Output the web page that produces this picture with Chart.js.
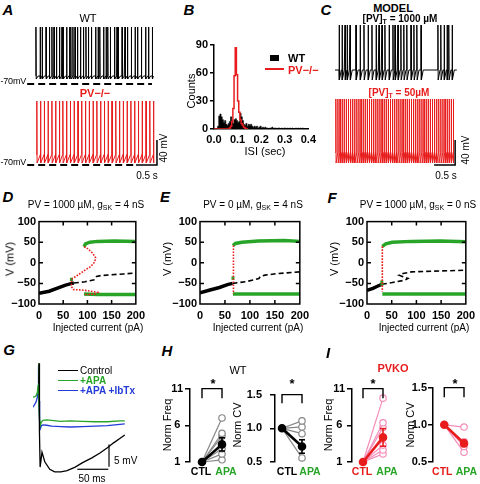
<!DOCTYPE html>
<html>
<head>
<meta charset="utf-8">
<script src="https://cdn.jsdelivr.net/npm/chart.js@4.4.0/dist/chart.umd.min.js"></script>
<style>
  body { margin: 0; background: #fff; }
  #fig { position: relative; width: 480px; height: 484px; overflow: hidden;
         font-family: "Liberation Sans", Arial, Helvetica, sans-serif; color: #000; }
  #fig canvas { position: absolute; }
  .t { position: absolute; white-space: nowrap; line-height: 1; font-size: 10px; z-index: 2; }
  .t sub { font-size: 7px; vertical-align: -2px; line-height: 0; }
  .pl { font-weight: bold; font-style: italic; font-size: 15px; }
  .sw { position: absolute; z-index: 2; }
</style>
</head>
<body>
<div id="fig"></div>
<script>
// ---- A: spike times (s) ----
const wtSpikes = [0.00,0.10,0.15,0.24,0.32,0.38,0.43,0.49,0.56,0.62,0.65,0.73,0.80,0.83,0.88,0.93,0.99,1.06,1.13,1.19,1.25,1.32,1.42,1.48,1.52,1.61,1.67,1.71,1.77,1.87,1.93,1.96,2.05,2.12,2.18,2.27,2.36,2.42,2.51,2.61,2.68,2.77];
const koSpikes = [0.02,0.11,0.20,0.29,0.38,0.47,0.56,0.64,0.73,0.82,0.91,1.00,1.09,1.18,1.27,1.36,1.45,1.54,1.63,1.72,1.81,1.90,1.99,2.08,2.17,2.26,2.35,2.44,2.53,2.62,2.71,2.80];
// ---- C: model spike times (s) ----
const pv1000Spikes = [0.10,0.17,0.24,0.29,0.36,0.50,0.60,0.69,0.79,0.88,0.98,1.05,1.12,1.19,1.29,1.38,1.43,1.50,1.57,1.64,1.71,1.81,1.88,1.95,2.05,2.45,2.52,2.60,2.67,2.71,2.79];
const pv50Spikes = [0.02,0.07,0.12,0.17,0.22,0.27,0.32,0.37,0.42,0.47,0.52,0.57,0.62,0.67,0.72,0.77,0.82,0.87,0.92,0.97,1.02,1.07,1.12,1.17,1.22,1.27,1.32,1.37,1.42,1.47,1.52,1.57,1.62,1.67,1.72,1.77,1.82,1.87,1.92,1.97,2.02,2.07,2.12,2.17,2.22,2.27,2.32,2.37,2.42,2.47,2.52,2.57,2.62,2.67,2.72,2.77,2.82];

// ---- B: ISI histogram, bins of 0.005 s starting at 0 ----
const isiBinWidth = 0.005;
const wtCounts = [0,0,0,0,3,14,16,13,10,7,9,5,4,6,8,13,9,6,10,11,9,7,8,17,13,9,5,4,6,3,5,4,5,3,2,3,2,3,1,2,3,1,2,1,2,1,1,0,1,1,2,0,1,1,0,1,1,0,1,0,1,1,0,1,0,1,0,1,0,0,1,0,1,0,1,0,1,0,0,0];
const koCounts = [0,0,0,0,0,0,0,0,0,0,0,0,0,0,1,3,8,22,57,87,58,30,18,10,6,4,2,1,0];

// ---- D/E/F: bifurcation diagrams (pA, mV) ----
const dRestI = [0,21,41,55,68,72],            dRestV = [-74,-69,-60,-54,-50,-49];
const dUnstI = [72,95,115,119,128,148,175,200], dUnstV = [-49,-46,-41,-33,-31,-29,-27,-25];
const dMaxI = [93,96,105,121,155,200],         dMaxV = [39,46,50,52,53,52];
const dMinI = [93,121,200],                    dMinV = [-76,-77,-77];
const dUcI = [93,101,111,117,115,107,96,85,75,69,67,67,71,88,108,121,115,101,93];
const dUcV = [39,34,23,12,2,-9,-17,-26,-34,-38,-46,-58,-65,-66,-69,-72,-76,-77,-77];
const dHopfI = [67,67], dHopfV = [-36,-44];

const eRestI = [0,20,39,55,65],                eRestV = [-73,-66,-60,-53,-50];
const eUnstI = [65,91,110,118,121,130,156,200], eUnstV = [-50,-46,-41,-38,-33,-30,-26,-22];
const eMaxI = [66,71,84,117,169,200],          eMaxV = [42,47,50,53,54,52];
const eMinI = [66,200],                        eMinV = [-76,-76];
const eUcI = [67,67],                          eUcV = [42,-76];
const eHopfI = [66,66], eHopfV = [-33,-41];

const fRestI = [0,12,21,30],                   fRestV = [-67,-62,-57,-52];
const fUnstI = [30,51,77,83,73,65,73,90,116,200], fUnstV = [-52,-48,-42,-38,-34,-30,-26,-22,-21,-18];
const fMaxI = [31,38,51,90,148,200],           fMaxV = [40,46,50,52,53,51];
const fMinI = [31,200],                        fMinV = [-76,-76];
const fUcI = [31,31],                          fUcV = [40,-70];
const fHopfI = [30,30], fHopfV = [-43,-56];

// ---- G: averaged AHP traces (ms, mV relative) ----
const gCtlT = [9.2,9.8,10.4,11.5,14.5,19,27,35,45,55,68,80,95,108,120,130,140,148];
const gCtlV = [9,13.6,-2,-10,-6.6,-8.8,-10.5,-11.1,-11.1,-10.8,-10.0,-9.0,-7.9,-6.8,-5.6,-4.5,-3.5,-2.7];
const gApaT = [0,3,5,7,8.2,8.8,9.6,10.6,12,13.5,16,22,30,45,60,80,100,120,140,148];
const gApaV = [5.9,6.0,6.2,7.0,8.6,13.6,6,1,-0.5,0.2,0.6,0.7,0.6,0.4,0.5,0.4,0.3,0.3,0.5,0.5];
const gIbtT = [0,3,5,7,8.2,8.9,9.7,10.7,12,13.5,16,22,30,45,60,80,100,120,140,148];
const gIbtV = [3.6,4.3,4.8,5.9,7.5,13.0,5,0,-1.2,-0.6,-0.4,-0.5,-0.7,-0.8,-0.9,-0.8,-0.7,-0.6,-0.3,-0.2];

// ---- H/I: normalised frequency and CV, CTL vs APA ----
const groups = ['CTL', 'APA'];
const hFreqApa = [7.0,4.9,4.5,2.8,2.1,1.3], hFreqMean = [1,3.4], hFreqErr = 0.9;
const hCvApa = [1.11,1.02,0.92,0.56],        hCvMean = [1,0.73],  hCvErr = 0.1;
const iFreqApa = [9.7,6.35,5.7,3.3,2.65,2.1], iFreqMean = [1,4.35], iFreqErr = 1.2;
const iCvApa = [0.97,0.77,0.71,0.63],        iCvMean = [1,0.75],  iCvErr = 0.04;

const GREEN = 'rgb(40,165,40)';
const RED = 'rgb(232,28,28)';
const BLUE = 'rgb(35,60,215)';
const GREY = 'rgb(135,135,135)';
const PINK = 'rgb(244,140,185)';
const FONT = '"Liberation Sans", Arial, Helvetica, sans-serif';
const TICKF = { family: FONT, size: 11, weight: 'bold' };

Chart.defaults.font.family = FONT;
Chart.defaults.color = '#000';
Chart.defaults.animation = false;
Chart.defaults.responsive = false;
Chart.defaults.events = [];
Chart.defaults.plugins.legend.display = false;
Chart.defaults.plugins.tooltip.enabled = false;
Chart.defaults.elements.point.radius = 0;

const fig = document.getElementById('fig');
const xy = (xs, ys) => xs.map((x, i) => ({ x, y: ys[i] }));

function canvasAt(l, t, w, h) {
  const c = document.createElement('canvas');
  c.width = w; c.height = h;
  c.style.left = l + 'px'; c.style.top = t + 'px';
  c.style.width = w + 'px'; c.style.height = h + 'px';
  fig.appendChild(c);
  return c;
}

function label(html, x, y, css = '', mode = 'c') {
  const d = document.createElement('div');
  d.className = 't';
  d.innerHTML = html;
  d.style.cssText += `left:${x}px;top:${y}px;` + css;
  d.style.transform = {
    c: 'translate(-50%,-50%)', l: 'translate(0,-50%)', r: 'translate(-100%,-50%)',
    v: 'translate(-50%,-50%) rotate(-90deg)'
  }[mode];
  fig.appendChild(d);
  return d;
}

function swatch(l, t, w, h, color) {
  const d = document.createElement('div');
  d.className = 'sw';
  d.style.cssText = `left:${l}px;top:${t}px;width:${w}px;height:${h}px;background:${color};`;
  fig.appendChild(d);
}

// spikes on a flat baseline with a short AHP
function flatTrain(times, base, peak, ahp, t0, t1) {
  const p = [{ x: t0, y: base }];
  times.forEach((t, i) => {
    const next = i + 1 < times.length ? times[i + 1] : t1;
    p.push({ x: t - 0.003, y: base }, { x: t, y: peak }, { x: t + 0.006, y: ahp });
    p.push({ x: Math.min(t + 0.05, next - 0.005), y: base });
  });
  p.push({ x: t1, y: base });
  return p;
}

// regular firing: trough then ramp up to threshold
function rampTrain(times, peak, trough, thresh, t0) {
  const p = [{ x: t0, y: thresh }];
  times.forEach((t, i) => {
    p.push({ x: t - 0.002, y: thresh }, { x: t, y: peak }, { x: t + 0.006, y: trough });
    if (i + 1 < times.length) p.push({ x: times[i + 1] - 0.004, y: thresh });
  });
  return p;
}

function traceOpts(x0, x1, y0, y1) {
  return {
    layout: { padding: 0 },
    datasets: { line: { clip: false } },
    scales: {
      x: { type: 'linear', display: false, min: x0, max: x1 },
      y: { type: 'linear', display: false, min: y0, max: y1 }
    }
  };
}

// ---------- A ----------
new Chart(canvasAt(26, 22, 134, 66), {
  type: 'line',
  data: { datasets: [
    { data: xy([-0.21, 2.76], [-70, -70]), borderColor: '#000', borderWidth: 1.8, borderDash: [7, 4] },
    { data: flatTrain(wtSpikes, -57.2, 21.2, -62, 0, 2.8), borderColor: '#000', borderWidth: 1 }
  ] },
  options: traceOpts(-0.238, 2.952, -76.4, 29.2)
});
new Chart(canvasAt(26, 95, 140, 75), {
  type: 'line',
  data: { datasets: [
    { data: xy([-0.21, 2.36], [-70, -70]), borderColor: '#000', borderWidth: 1.8, borderDash: [7, 4] },
    { data: rampTrain(koSpikes, 32.4, -66.8, -53, 0), borderColor: RED, borderWidth: 1 },
    { data: xy([2.38, 2.88, 2.88], [-70, -70, -30]), borderColor: '#000', borderWidth: 1.5 }
  ] },
  options: traceOpts(-0.238, 3.095, -78, 42)
});

// ---------- B ----------
const binStarts = n => Array.from({ length: n + 1 }, (_, i) => +(i * isiBinWidth).toFixed(3));
new Chart(canvasAt(180, 35, 140, 124), {
  type: 'line',
  data: { datasets: [
    { data: xy(binStarts(koCounts.length), koCounts.concat([0])), stepped: 'after',
      borderColor: RED, borderWidth: 1.5, order: 0 },
    { data: xy(binStarts(wtCounts.length), wtCounts.concat([0])), stepped: 'after',
      borderColor: '#000', borderWidth: 0.6, backgroundColor: '#000', fill: 'origin', order: 1 }
  ] },
  options: {
    layout: { padding: { left: 0, top: 10, right: 10, bottom: 0 } },
    scales: {
      x: { type: 'linear', min: 0, max: 0.4,
           afterBuildTicks: a => { a.ticks = [0, 0.1, 0.2, 0.3, 0.4].map(v => ({ value: v })); },
           ticks: { font: TICKF, padding: 4, maxRotation: 0, callback: v => v.toFixed(1) },
           grid: { display: false, drawTicks: false },
           border: { display: true, color: '#000', width: 1.5 },
           afterFit: s => { s.height = 30; } },
      y: { min: 0, max: 90,
           afterBuildTicks: a => { a.ticks = [0, 30, 60, 90].map(v => ({ value: v })); },
           ticks: { font: TICKF, padding: 2 },
           grid: { display: true, drawOnChartArea: false, tickLength: 4, color: '#000', lineWidth: 1.5 },
           border: { display: true, color: '#000', width: 1.5 },
           afterFit: s => { s.width = 34; } }
    }
  }
});

// ---------- C ----------
new Chart(canvasAt(330, 20, 130, 68), {
  type: 'line',
  data: { datasets: [
    { data: flatTrain(pv1000Spikes, -60, 12, -76, 0, 2.9), borderColor: '#000', borderWidth: 1 }
  ] },
  options: traceOpts(-0.119, 2.976, -88.8, 20)
});
new Chart(canvasAt(330, 95, 140, 75), {
  type: 'line',
  data: { datasets: [
    { data: rampTrain(pv50Spikes, 27.4, -75, -58, 0), borderColor: RED, borderWidth: 1 },
    { data: xy([2.36, 2.86, 2.86], [-78, -78, -38]), borderColor: '#000', borderWidth: 1.5 }
  ] },
  options: traceOpts(-0.119, 3.214, -86.2, 33.8)
});

// ---------- D / E / F ----------
const frameTicks = {
  id: 'frameTicks',
  afterDatasetsDraw(chart, args, o) {
    const { ctx, chartArea: a, scales: { x, y } } = chart;
    ctx.save();
    ctx.strokeStyle = '#000';
    ctx.lineWidth = 1.5;
    ctx.strokeRect(a.left, a.top, a.right - a.left, a.bottom - a.top);
    ctx.beginPath();
    o.xt.forEach(v => {
      const px = x.getPixelForValue(v);
      ctx.moveTo(px, a.bottom); ctx.lineTo(px, a.bottom - o.len);
      ctx.moveTo(px, a.top); ctx.lineTo(px, a.top + o.len);
    });
    o.yt.forEach(v => {
      const py = y.getPixelForValue(v);
      ctx.moveTo(a.left, py); ctx.lineTo(a.left + o.len, py);
      ctx.moveTo(a.right, py); ctx.lineTo(a.right - o.len, py);
    });
    ctx.stroke();
    ctx.restore();
  }
};

function bifChart(left, width, padRight, restI, restV, unstI, unstV, maxI, maxV, minI, minV, ucI, ucV, hopfI, hopfV) {
  return new Chart(canvasAt(left, 212, width, 125), {
    type: 'line',
    data: { datasets: [
      { data: xy(restI, restV), borderColor: '#000', borderWidth: 3.5, order: 4 },
      { data: xy(unstI, unstV), borderColor: '#000', borderWidth: 1.6, borderDash: [5, 3], order: 4 },
      { data: xy(maxI, maxV), borderColor: GREEN, borderWidth: 3.5, order: 3 },
      { data: xy(minI, minV), borderColor: GREEN, borderWidth: 3.5, order: 3 },
      { data: xy(hopfI, hopfV), borderColor: GREEN, borderWidth: 3, order: 2 },
      { data: xy(ucI, ucV), borderColor: RED, borderWidth: 1.6, borderDash: [1.6, 1.4], order: 1 }
    ] },
    options: {
      layout: { padding: { left: 0, top: 9, right: padRight, bottom: 0 } },
      scales: {
        x: { type: 'linear', min: 0, max: 200,
             afterBuildTicks: a => { a.ticks = [0, 50, 100, 150, 200].map(v => ({ value: v })); },
             ticks: { font: TICKF, padding: 5, maxRotation: 0 },
             grid: { display: false, drawTicks: false }, border: { display: false },
             afterFit: s => { s.height = 33; } },
        y: { min: -100, max: 100,
             afterBuildTicks: a => { a.ticks = [-100, -50, 0, 50, 100].map(v => ({ value: v })); },
             ticks: { font: TICKF, padding: 3, callback: v => String(v).replace('-', '\u2212') },
             grid: { display: false, drawTicks: false }, border: { display: false },
             afterFit: s => { s.width = 39; } }
      },
      plugins: { frameTicks: { xt: [50, 100, 150], yt: [50, 0, -50], len: 4 } }
    },
    plugins: [frameTicks]
  });
}
bifChart(0, 150, 11, dRestI, dRestV, dUnstI, dUnstV, dMaxI, dMaxV, dMinI, dMinV, dUcI, dUcV, dHopfI, dHopfV);
bifChart(161, 153, 11, eRestI, eRestV, eUnstI, eUnstV, eMaxI, eMaxV, eMinI, eMinV, eUcI, eUcV, eHopfI, eHopfV);
bifChart(328, 152, 10, fRestI, fRestV, fUnstI, fUnstV, fMaxI, fMaxV, fMinI, fMinV, fUcI, fUcV, fHopfI, fHopfV);

// ---------- G ----------
new Chart(canvasAt(33, 363, 93, 112), {
  type: 'line',
  data: { datasets: [
    { data: xy(gCtlT, gCtlV), borderColor: '#000', borderWidth: 1.3, order: 0 },
    { data: xy(gApaT, gApaV), borderColor: GREEN, borderWidth: 1.3, order: 1 },
    { data: xy(gIbtT, gIbtV), borderColor: BLUE, borderWidth: 1.3, order: 2 },
    { data: xy([71.5, 121.5], [-10.5, -10.5]), borderColor: '#000', borderWidth: 1.2 },
    { data: xy([122.6, 122.6], [-9.9, -4.9]), borderColor: '#000', borderWidth: 1.2 }
  ] },
  options: traceOpts(0, 150, -11.8, 13.64)
});

// ---------- H / I ----------
function pairChart(left, width, yWidth, padRight, yMin, yMax, yTicks, dec, tickPad, xMin, xMax, labelAt,
                   apa, mean, err, lineCol, meanCol, ctlCol, brLow) {
  const ds = apa.map(v => ({
    data: [{ x: 0, y: mean[0] }, { x: 1, y: v }], borderColor: lineCol, borderWidth: 1.2,
    pointRadius: [0, 3.2], pointBackgroundColor: '#fff', pointBorderColor: lineCol, pointBorderWidth: 1.2, order: 5
  }));
  ds.push({ data: xy([0, 1], mean), borderColor: meanCol, borderWidth: 2.6,
            pointRadius: 3, pointBackgroundColor: meanCol, pointBorderColor: meanCol, order: 1 });
  const hi = mean[1] + err, lo = mean[1] - err;
  ds.push({ data: xy([1, 1], [lo, hi]), borderColor: meanCol, borderWidth: 1.6, order: 2 });
  ds.push({ data: xy([0.85, 1.15], [hi, hi]), borderColor: meanCol, borderWidth: 1.6, order: 2 });
  ds.push({ data: xy([0.85, 1.15], [lo, lo]), borderColor: meanCol, borderWidth: 1.6, order: 2 });
  ds.push({ data: xy([0, 0, 1, 1], [brLow, yMax, yMax, brLow]), borderColor: '#000', borderWidth: 1.4, order: 0 });
  return new Chart(canvasAt(left, 380, width, 100), {
    type: 'line',
    data: { datasets: ds },
    options: {
      layout: { padding: { left: 0, top: 7, right: padRight, bottom: 0 } },
      datasets: { line: { clip: false } },
      scales: {
        x: { type: 'linear', min: xMin, max: xMax,
             afterBuildTicks: a => { a.ticks = labelAt.map(v => ({ value: v })); },
             ticks: { font: { family: FONT, size: 10.5, weight: 'bold' }, padding: 4, maxRotation: 0,
                      autoSkip: false, callback: (v, i) => groups[i],
                      color: c => (c.index === 0 ? ctlCol : GREEN) },
             grid: { display: false, drawTicks: false }, border: { display: false },
             afterFit: s => { s.height = 18; } },
        y: { min: yMin, max: yMax,
             afterBuildTicks: a => { a.ticks = yTicks.map(v => ({ value: v })); },
             ticks: { font: TICKF, padding: tickPad, crossAlign: 'center', callback: v => v.toFixed(dec) },
             grid: { display: true, drawOnChartArea: false, tickLength: 5, color: '#000', lineWidth: 1.5 },
             border: { display: true, color: '#000', width: 1.5 },
             afterFit: s => { s.width = yWidth; } }
      }
    }
  });
}
pairChart(160, 90, 30, 18, 1, 11, [1, 6, 11], 0, 2, -0.6, 1.5, [-0.05, 1.2],
          hFreqApa, hFreqMean, hFreqErr, GREY, '#000', '#000', 9.7);
pairChart(231, 104, 44, 18, 0.5, 1.5, [0.5, 1.0, 1.5], 1, 8, -0.35, 1.75, [0.25, 1.4],
          hCvApa, hCvMean, hCvErr, GREY, '#000', '#000', 1.37);
pairChart(322, 90, 30, 18, 1, 11, [1, 6, 11], 0, 2, -0.55, 1.55, [-0.05, 1.2],
          iFreqApa, iFreqMean, iFreqErr, PINK, RED, RED, 9.7);
pairChart(398, 82, 35, 14, 0.5, 1.5, [0.5, 1.0, 1.5], 1, 1, -0.571, 1.0, [-0.1, 1.12],
          iCvApa, iCvMean, iCvErr, PINK, RED, RED, 1.37);

// ---------- text ----------
[['A', 8, 9], ['B', 189, 9], ['C', 326, 9], ['D', 8, 196], ['E', 165, 196], ['F', 332, 197],
 ['G', 9, 349], ['H', 167, 350], ['I', 328, 352]].forEach(([s, x, y]) => label(s, x, y, '', 'c').classList.add('pl'));

label('WT', 88, 18, 'font-size:11px;');
label('PV\u2212/\u2212', 95, 93, 'font-size:11px;font-weight:bold;color:' + RED + ';');
label('-70mV', 26, 81, 'font-size:9px;letter-spacing:-0.2px;', 'r');
label('-70mV', 26, 162, 'font-size:9px;letter-spacing:-0.2px;', 'r');
label('40 mV', 164, 148, '', 'v');
label('0.5 s', 147, 176);

label('Counts', 191, 91, 'font-size:11px;', 'v');
label('ISI (sec)', 265, 151, 'font-size:11px;');
swatch(270, 55, 9, 6, '#000');
label('WT', 288, 58, 'font-size:11px;font-weight:bold;', 'l');
swatch(265, 68, 19, 2, RED);
label('PV\u2212/\u2212', 288, 69.5, 'font-size:11px;font-weight:bold;color:' + RED + ';', 'l');

label('MODEL', 393, 8, 'font-size:11px;font-weight:bold;');
label('[PV]<sub>T</sub> = 1000 \u00b5M', 400, 19, 'font-weight:bold;');
label('[PV]<sub>T</sub> = 50\u00b5M', 399, 93, 'font-weight:bold;color:' + RED + ';');
label('40 mV', 466, 150, '', 'v');
label('0.5 s', 446, 176);

label('PV = 1000 \u00b5M, g<sub>SK</sub> = 4 nS', 86, 205);
label('PV = 0 \u00b5M, g<sub>SK</sub> = 4 nS', 253, 205);
label('PV = 1000 \u00b5M, g<sub>SK</sub> = 0 nS', 418, 205);
[[10, 98], [167, 258], [334, 424]].forEach(([vx, hx]) => {
  label('V (mV)', vx, 259, 'font-size:11px;', 'v');
  label('Injected current (pA)', hx, 328);
});

swatch(58, 369.5, 20, 1.5, '#000');
label('Control', 80, 371, '', 'l');
swatch(58, 379.5, 20, 1.5, GREEN);
label('+APA', 80, 381, 'font-weight:bold;color:' + GREEN + ';', 'l');
swatch(58, 389.5, 20, 1.5, BLUE);
label('+APA +IbTx', 80, 391, 'font-weight:bold;color:' + BLUE + ';', 'l');
label('5 mV', 114, 461, '', 'l');
label('50 ms', 92, 479);

label('WT', 238, 370, 'font-size:11px;');
label('PVKO', 393, 368, 'font-size:11px;font-weight:bold;color:' + RED + ';');
[[213, 383], [292, 383], [373, 383], [455, 383]].forEach(([x, y]) => label('*', x, y, 'font-size:13px;font-weight:bold;'));
label('Norm Freq', 167, 425, 'font-size:11px;', 'v');
label('Norm CV', 237, 425, 'font-size:11px;', 'v');
label('Norm Freq', 328, 425, 'font-size:11px;', 'v');
label('Norm CV', 410, 425, 'font-size:11px;', 'v');
</script>
</body>
</html>
